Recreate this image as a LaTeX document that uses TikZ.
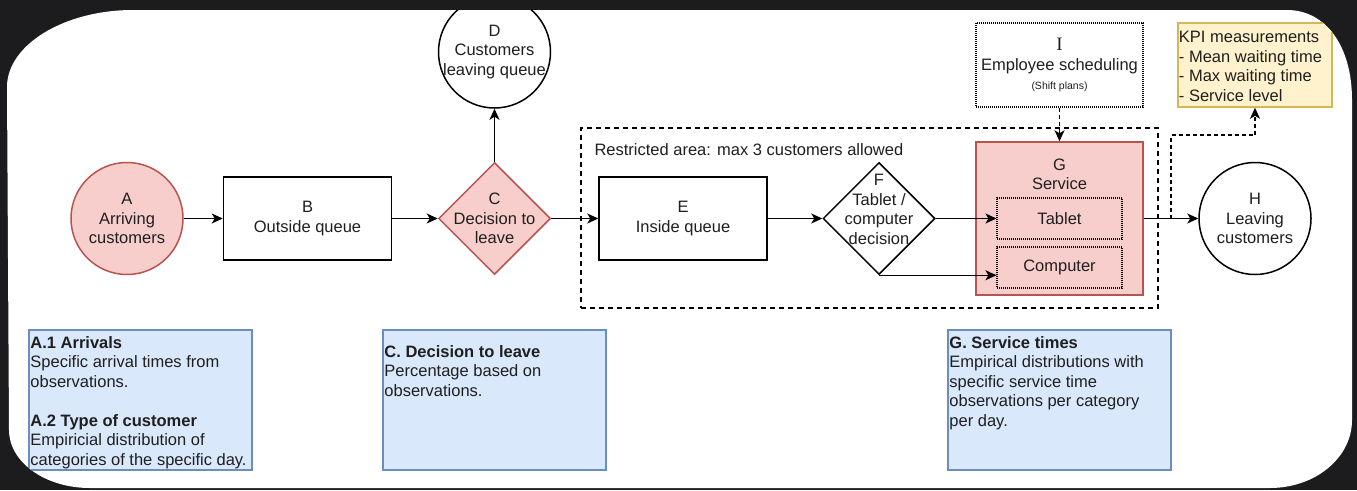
\documentclass[tikz,border=0pt]{standalone}
\usepackage{fontspec}
\setmainfont{Liberation Sans}
\newfontfamily\letterfont{Liberation Serif}
\usetikzlibrary{shapes.geometric, arrows.meta}

\definecolor{backdrop}{HTML}{1C1B1E}
\definecolor{pinkfill}{HTML}{F8CECC}
\definecolor{pinkline}{HTML}{B85450}
\definecolor{bluefill}{HTML}{DAE8FC}
\definecolor{blueline}{HTML}{6C8EBF}
\definecolor{yellowfill}{HTML}{FFF2CC}
\definecolor{yellowline}{HTML}{D6B656}
\definecolor{inktext}{HTML}{1F1F1F}

\tikzset{
  every node/.style={font=\fontsize{16.5}{19.5}\selectfont, text=inktext, align=center},
  flow/.style={line width=1.5pt, -{Stealth[length=11pt, width=10pt, inset=3pt]}},
  dashflow/.style={flow, dash pattern=on 4pt off 3pt},
  roundnode/.style={circle, draw, line width=1.5pt, minimum size=112pt, inner sep=0pt},
  pinknode/.style={fill=pinkfill, draw=pinkline},
  decidenode/.style={diamond, draw, line width=1.5pt, minimum width=112pt, minimum height=112pt, inner sep=0pt},
  queuebox/.style={rectangle, draw, line width=1.5pt, minimum width=168pt, minimum height=83pt, inner sep=0pt},
  dotbox/.style={rectangle, draw, line width=1.1pt, dash pattern=on 1pt off 1pt},
  zonebox/.style={rectangle, draw, line width=1.5pt, dash pattern=on 5pt off 4pt, minimum width=577pt, minimum height=180pt},
  infobox/.style={rectangle, draw=blueline, fill=bluefill, line width=1.5pt, minimum width=223pt, minimum height=140pt},
  kpibox/.style={rectangle, draw=yellowline, fill=yellowfill, line width=1.5pt, minimum width=154pt, minimum height=84pt},
  infotext/.style={anchor=north west, align=left, inner xsep=2pt, inner ysep=7pt},
}

\begin{document}
\begin{tikzpicture}[x=1pt, y=-1pt]
  \useasboundingbox (0,0) rectangle (1357,490);
  \fill[backdrop] (0,0) rectangle (1357,490);
  \begin{scope}
    \clip (7,87) .. controls (7,45) and (64,10) .. (133,10) -- (1287,10)
      .. controls (1325,10) and (1352,45) .. (1352,100) -- (1352,420)
      .. controls (1352,458) and (1315,488) .. (1270,488) -- (90,488)
      .. controls (45,488) and (9,462) .. (9,430) -- cycle;
    \fill[white] (0,0) rectangle (1357,490);

    % restricted area
    \node[zonebox] (zone) at (869.5,218) {};
    \node[anchor=west] (zonetitle) at (591,150) {Restricted area: max 3 customers allowed};

    % main flow
    \node[roundnode, pinknode] (arrive) at (127,218.5) {A\\Arriving\\customers};
    \node[queuebox] (outq) at (307.5,218.5) {B\\Outside queue};
    \node[decidenode, pinknode] (leave) at (494.5,218.5) {};
    \node (leavetext) at (leave) {C\\Decision to\\leave};
    \node[roundnode] (gone) at (494.5,52) {};
    \node (gonetext) at (gone) {D\\Customers\\leaving queue};
    \node[queuebox] (inq) at (683,218.5) {E\\Inside queue};
    \node[decidenode] (device) at (879,218.5) {};
    \node[yshift=9pt] (devicetext) at (device) {F\\Tablet /\\computer\\decision};
    \node[queuebox, pinknode, minimum width=167pt, minimum height=153pt] (service) at (1059.5,218.5) {};
    \node[anchor=north, yshift=-14pt] (servicetitle) at (service.north) {G\\Service};
    \node[dotbox, fill=pinkfill, minimum width=125pt, minimum height=41pt] (tablet) at (1059.5,218.5) {Tablet};
    \node[dotbox, fill=pinkfill, minimum width=125pt, minimum height=41pt] (computer) at (1059.5,267.5) {Computer};
    \node[roundnode] (exit) at (1255,218.5) {H\\Leaving\\customers};

    % scheduling and KPI
    \node[dotbox, minimum width=167pt, minimum height=84pt] (sched) at (1059.5,65)
      {{\letterfont\fontsize{19}{19.5}\selectfont I}\\Employee scheduling\\{\fontsize{10.5}{13}\selectfont (Shift plans)}};
    \node[kpibox] (kpi) at (1255,65) {};
    \node[infotext, inner xsep=1.5pt, inner ysep=9pt] (kpitext) at (kpi.north west)
      {KPI measurements\\- Mean waiting time\\- Max waiting time\\- Service level};

    % input data boxes
    \node[infobox] (arriveinfo) at (140.5,400) {};
    \node[infotext] (arrivetext) at (arriveinfo.north west)
      {\textbf{A.1 Arrivals}\\Specific arrival times from\\observations.\\[19.5pt]
       \textbf{A.2 Type of customer}\\Empiricial distribution of\\categories of the specific day.};
    \node[infobox] (leaveinfo) at (494.5,400) {};
    \node[infotext, inner ysep=16pt] (leaveinfotext) at (leaveinfo.north west)
      {\textbf{C. Decision to leave}\\Percentage based on\\observations.};
    \node[infobox] (serviceinfo) at (1059.5,400) {};
    \node[infotext] (serviceinfotext) at (serviceinfo.north west)
      {\textbf{G. Service times}\\Empirical distributions with\\specific service time\\observations per category\\per day.};

    % connectors
    \draw[flow] (arrive) -- (outq);
    \draw[flow] (outq) -- (leave);
    \draw[flow] (leave) -- (gone);
    \draw[flow] (leave) -- (inq);
    \draw[flow] (inq) -- (device);
    \draw[flow] (device) -- (tablet);
    \draw[flow] (device.south) -- (device.south -| computer.west);
    \draw[flow] (service) -- (exit);
    \draw[dashflow] (sched) -- (service);
    \coordinate (kpitap) at (1171,218.5);
    \coordinate (kpibend) at (1171,135);
    \draw[dashflow] (kpitap) -- (kpibend) -| (kpi.south);
  \end{scope}
\end{tikzpicture}
\end{document}
